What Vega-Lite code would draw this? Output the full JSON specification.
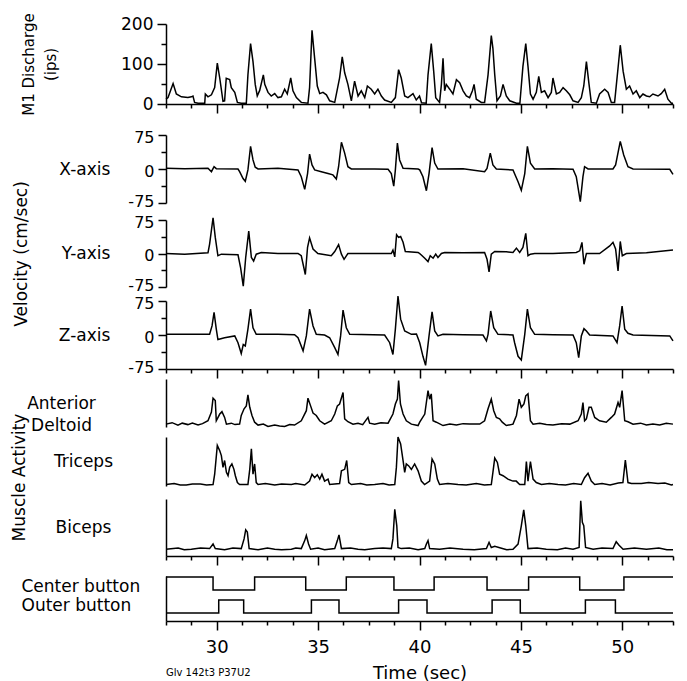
{
  "$schema": "https://vega.github.io/schema/vega-lite/v6.json",
  "padding": {"left": 10, "top": 12, "right": 8, "bottom": 0},
  "config": {
    "view": {"stroke": null},
    "font": "DejaVu Sans",
    "axis": {"grid": false, "domainColor": "#000", "tickColor": "#000", "labelColor": "#000", "titleColor": "#000", "domainWidth": 1.5, "tickWidth": 1.5, "labelFontSize": 17, "titleFontSize": 17, "titleFontWeight": "normal", "labelOverlap": false},
    "title": {"fontWeight": "normal", "color": "#000"},
    "line": {"color": "#000", "strokeWidth": 1.5, "clip": true}
  },
  "datasets": {
    "m1": [{"t":27.5,"v":12},{"t":27.6,"v":16},{"t":27.85,"v":51},{"t":28.01,"v":25},{"t":28.26,"v":18},{"t":28.58,"v":16},{"t":28.75,"v":18},{"t":28.83,"v":20},{"t":28.91,"v":4},{"t":29.08,"v":2},{"t":29.41,"v":2},{"t":29.44,"v":25},{"t":29.57,"v":18},{"t":29.74,"v":23},{"t":29.9,"v":41},{"t":30.03,"v":102},{"t":30.15,"v":65},{"t":30.31,"v":7},{"t":30.39,"v":8},{"t":30.47,"v":64},{"t":30.64,"v":61},{"t":30.72,"v":41},{"t":30.89,"v":29},{"t":31.02,"v":4},{"t":31.21,"v":2},{"t":31.46,"v":2},{"t":31.54,"v":73},{"t":31.67,"v":151},{"t":31.79,"v":106},{"t":31.9,"v":49},{"t":32.0,"v":20},{"t":32.12,"v":34},{"t":32.3,"v":73},{"t":32.37,"v":49},{"t":32.53,"v":29},{"t":32.69,"v":20},{"t":32.86,"v":26},{"t":33.02,"v":16},{"t":33.19,"v":18},{"t":33.35,"v":37},{"t":33.48,"v":25},{"t":33.65,"v":65},{"t":33.76,"v":33},{"t":33.93,"v":16},{"t":34.17,"v":4},{"t":34.5,"v":2},{"t":34.58,"v":41},{"t":34.7,"v":184},{"t":34.83,"v":114},{"t":34.96,"v":45},{"t":35.08,"v":26},{"t":35.24,"v":29},{"t":35.41,"v":23},{"t":35.57,"v":8},{"t":35.82,"v":4},{"t":36.06,"v":65},{"t":36.19,"v":118},{"t":36.31,"v":78},{"t":36.47,"v":49},{"t":36.64,"v":8},{"t":36.8,"v":57},{"t":36.97,"v":20},{"t":37.13,"v":33},{"t":37.3,"v":16},{"t":37.43,"v":45},{"t":37.62,"v":37},{"t":37.79,"v":25},{"t":37.95,"v":37},{"t":38.12,"v":20},{"t":38.28,"v":10},{"t":38.61,"v":4},{"t":38.81,"v":16},{"t":38.97,"v":86},{"t":39.1,"v":65},{"t":39.27,"v":20},{"t":39.43,"v":16},{"t":39.68,"v":26},{"t":39.84,"v":10},{"t":40.0,"v":20},{"t":40.1,"v":3},{"t":40.33,"v":2},{"t":40.42,"v":73},{"t":40.58,"v":151},{"t":40.7,"v":82},{"t":40.8,"v":16},{"t":40.99,"v":4},{"t":41.08,"v":49},{"t":41.16,"v":114},{"t":41.24,"v":33},{"t":41.32,"v":49},{"t":41.49,"v":37},{"t":41.65,"v":25},{"t":41.82,"v":61},{"t":41.98,"v":53},{"t":42.15,"v":33},{"t":42.31,"v":20},{"t":42.47,"v":16},{"t":42.61,"v":33},{"t":42.69,"v":49},{"t":42.8,"v":12},{"t":43.05,"v":4},{"t":43.21,"v":4},{"t":43.38,"v":73},{"t":43.54,"v":171},{"t":43.62,"v":139},{"t":43.71,"v":73},{"t":43.82,"v":8},{"t":43.99,"v":20},{"t":44.12,"v":49},{"t":44.28,"v":20},{"t":44.45,"v":8},{"t":44.78,"v":2},{"t":44.95,"v":2},{"t":45.1,"v":94},{"t":45.24,"v":151},{"t":45.35,"v":94},{"t":45.47,"v":25},{"t":45.6,"v":12},{"t":45.76,"v":29},{"t":45.88,"v":69},{"t":46.01,"v":29},{"t":46.17,"v":33},{"t":46.34,"v":16},{"t":46.5,"v":29},{"t":46.58,"v":65},{"t":46.75,"v":25},{"t":46.91,"v":29},{"t":47.08,"v":41},{"t":47.24,"v":33},{"t":47.41,"v":23},{"t":47.57,"v":8},{"t":47.82,"v":4},{"t":47.98,"v":16},{"t":48.1,"v":45},{"t":48.23,"v":106},{"t":48.36,"v":49},{"t":48.47,"v":4},{"t":48.72,"v":2},{"t":48.88,"v":25},{"t":49.13,"v":37},{"t":49.3,"v":29},{"t":49.46,"v":4},{"t":49.62,"v":4},{"t":49.79,"v":90},{"t":49.9,"v":147},{"t":50.04,"v":82},{"t":50.2,"v":37},{"t":50.36,"v":45},{"t":50.53,"v":25},{"t":50.69,"v":33},{"t":50.86,"v":16},{"t":51.02,"v":25},{"t":51.19,"v":20},{"t":51.35,"v":18},{"t":51.51,"v":25},{"t":51.76,"v":20},{"t":51.92,"v":26},{"t":52.09,"v":37},{"t":52.25,"v":12},{"t":52.42,"v":2},{"t":52.5,"v":2}],
    "vx": [{"t":27.5,"v":1.5},{"t":28.42,"v":0.7},{"t":29.57,"v":1.5},{"t":29.74,"v":-6},{"t":29.87,"v":5},{"t":29.98,"v":0.7},{"t":31.05,"v":0},{"t":31.13,"v":-6},{"t":31.3,"v":-21},{"t":31.41,"v":-27},{"t":31.54,"v":-2},{"t":31.67,"v":50},{"t":31.79,"v":20},{"t":31.9,"v":4},{"t":32.04,"v":0},{"t":33.02,"v":1.5},{"t":34.01,"v":-2},{"t":34.17,"v":-17},{"t":34.34,"v":-45},{"t":34.48,"v":-10},{"t":34.58,"v":33},{"t":34.7,"v":9},{"t":34.83,"v":-2},{"t":35.16,"v":-6},{"t":35.49,"v":-10},{"t":35.73,"v":-13},{"t":35.9,"v":-22},{"t":36.01,"v":5},{"t":36.15,"v":59},{"t":36.31,"v":35},{"t":36.47,"v":5},{"t":36.64,"v":0},{"t":37.79,"v":0},{"t":38.45,"v":-0.7},{"t":38.61,"v":-10},{"t":38.73,"v":-38},{"t":38.81,"v":-2},{"t":38.91,"v":57},{"t":39.02,"v":20},{"t":39.19,"v":1.5},{"t":39.93,"v":0},{"t":40.01,"v":-2},{"t":40.17,"v":-17},{"t":40.34,"v":-48},{"t":40.47,"v":-10},{"t":40.62,"v":47},{"t":40.75,"v":13},{"t":40.91,"v":0},{"t":42.15,"v":0.7},{"t":43.21,"v":-6},{"t":43.33,"v":1.5},{"t":43.49,"v":35},{"t":43.62,"v":9},{"t":43.79,"v":0},{"t":44.61,"v":-2},{"t":44.86,"v":-28},{"t":45.02,"v":-47},{"t":45.19,"v":-10},{"t":45.32,"v":50},{"t":45.47,"v":13},{"t":45.68,"v":0},{"t":46.58,"v":0.7},{"t":47.57,"v":-0.7},{"t":47.73,"v":-17},{"t":47.93,"v":-72},{"t":48.06,"v":-17},{"t":48.14,"v":5},{"t":48.31,"v":0},{"t":49.54,"v":0},{"t":49.67,"v":9},{"t":49.9,"v":61},{"t":50.07,"v":31},{"t":50.28,"v":5},{"t":50.53,"v":0},{"t":52.34,"v":-0.7},{"t":52.5,"v":-12}],
    "vy": [{"t":27.5,"v":0},{"t":28.42,"v":-1.5},{"t":29.57,"v":1.5},{"t":29.65,"v":21},{"t":29.82,"v":80},{"t":29.93,"v":36},{"t":30.06,"v":-5},{"t":30.23,"v":-1.5},{"t":31.05,"v":-3},{"t":31.18,"v":-32},{"t":31.31,"v":-73},{"t":31.43,"v":-9},{"t":31.58,"v":50},{"t":31.71,"v":-9},{"t":31.82,"v":-17},{"t":31.95,"v":-1.5},{"t":32.2,"v":2.3},{"t":33.02,"v":0},{"t":34.01,"v":0},{"t":34.17,"v":-5},{"t":34.37,"v":-47},{"t":34.48,"v":14},{"t":34.58,"v":35},{"t":34.75,"v":10},{"t":34.99,"v":0},{"t":35.65,"v":-5},{"t":35.82,"v":4.5},{"t":36.01,"v":20},{"t":36.15,"v":-1.5},{"t":36.28,"v":-13},{"t":36.47,"v":0},{"t":37.79,"v":0},{"t":38.61,"v":0},{"t":38.69,"v":7.6},{"t":38.78,"v":-7.6},{"t":38.87,"v":42},{"t":38.97,"v":36},{"t":39.07,"v":38},{"t":39.19,"v":25},{"t":39.3,"v":4.5},{"t":39.93,"v":2.3},{"t":40.01,"v":0},{"t":40.26,"v":-10.6},{"t":40.42,"v":-18},{"t":40.53,"v":-5},{"t":40.67,"v":-10.6},{"t":40.8,"v":-1.5},{"t":40.91,"v":-9},{"t":41.08,"v":0},{"t":41.24,"v":2.3},{"t":42.15,"v":1.5},{"t":43.21,"v":2.3},{"t":43.33,"v":-13},{"t":43.43,"v":-41},{"t":43.54,"v":-1.5},{"t":43.71,"v":4.5},{"t":44.28,"v":3.8},{"t":44.61,"v":2.3},{"t":44.78,"v":12},{"t":44.94,"v":2.3},{"t":45.1,"v":13.6},{"t":45.24,"v":45},{"t":45.35,"v":-5},{"t":45.47,"v":-1.5},{"t":45.68,"v":0},{"t":46.58,"v":0},{"t":47.73,"v":2.3},{"t":47.9,"v":6},{"t":48.01,"v":25},{"t":48.11,"v":-24},{"t":48.23,"v":0},{"t":48.88,"v":0},{"t":49.38,"v":17},{"t":49.54,"v":25},{"t":49.67,"v":10},{"t":49.79,"v":-39},{"t":49.9,"v":27},{"t":50.0,"v":-5},{"t":50.2,"v":0},{"t":51.19,"v":1.5},{"t":52.5,"v":7.6}],
    "vz": [{"t":27.5,"v":1.5},{"t":28.58,"v":1.5},{"t":29.65,"v":1.5},{"t":29.77,"v":20},{"t":29.87,"v":50},{"t":29.98,"v":13},{"t":30.06,"v":-10},{"t":30.39,"v":-6},{"t":30.89,"v":-2},{"t":31.05,"v":-17},{"t":31.21,"v":-41},{"t":31.31,"v":-21},{"t":31.41,"v":-24},{"t":31.54,"v":13},{"t":31.67,"v":57},{"t":31.79,"v":16},{"t":31.95,"v":1.5},{"t":33.02,"v":1.5},{"t":33.84,"v":0.7},{"t":34.01,"v":-6},{"t":34.26,"v":-35},{"t":34.42,"v":-2},{"t":34.58,"v":57},{"t":34.75,"v":20},{"t":34.91,"v":1.5},{"t":35.32,"v":0},{"t":35.57,"v":-6},{"t":35.82,"v":-28},{"t":35.98,"v":-43},{"t":36.11,"v":-2},{"t":36.23,"v":55},{"t":36.39,"v":16},{"t":36.56,"v":1.5},{"t":38.28,"v":0},{"t":38.53,"v":-17},{"t":38.69,"v":-43},{"t":38.81,"v":13},{"t":38.94,"v":86},{"t":39.07,"v":35},{"t":39.27,"v":9},{"t":39.6,"v":1.5},{"t":39.85,"v":2},{"t":40.01,"v":-17},{"t":40.17,"v":-47},{"t":40.3,"v":-67},{"t":40.47,"v":-2},{"t":40.62,"v":51},{"t":40.75,"v":9},{"t":40.91,"v":-2},{"t":41.16,"v":1.5},{"t":42.15,"v":0.7},{"t":43.13,"v":0},{"t":43.3,"v":-13},{"t":43.38,"v":1.5},{"t":43.51,"v":53},{"t":43.66,"v":16},{"t":43.87,"v":1.5},{"t":44.61,"v":0},{"t":44.69,"v":-17},{"t":44.86,"v":-47},{"t":45.02,"v":-55},{"t":45.19,"v":1.5},{"t":45.32,"v":57},{"t":45.47,"v":16},{"t":45.68,"v":1.5},{"t":46.58,"v":0.7},{"t":47.57,"v":0},{"t":47.73,"v":-17},{"t":47.85,"v":-50},{"t":47.98,"v":-2},{"t":48.11,"v":14},{"t":48.23,"v":9},{"t":48.39,"v":0},{"t":49.54,"v":-2},{"t":49.74,"v":-17},{"t":49.87,"v":20},{"t":49.99,"v":64},{"t":50.12,"v":13},{"t":50.28,"v":3.7},{"t":50.53,"v":0},{"t":52.34,"v":-2},{"t":52.5,"v":-13}],
    "ad": [{"t":27.5,"v":6},{"t":27.8,"v":9},{"t":28.09,"v":4},{"t":28.3,"v":8},{"t":28.58,"v":5},{"t":28.8,"v":8},{"t":29.08,"v":4},{"t":29.3,"v":7},{"t":29.57,"v":13},{"t":29.74,"v":31},{"t":29.82,"v":60},{"t":29.93,"v":55},{"t":29.98,"v":13},{"t":30.15,"v":27},{"t":30.26,"v":32},{"t":30.39,"v":20},{"t":30.48,"v":6},{"t":30.72,"v":8},{"t":30.9,"v":5},{"t":31.13,"v":6},{"t":31.21,"v":24},{"t":31.35,"v":38},{"t":31.46,"v":44},{"t":31.54,"v":67},{"t":31.63,"v":41},{"t":31.74,"v":24},{"t":31.87,"v":10},{"t":32.04,"v":4},{"t":32.3,"v":6},{"t":32.53,"v":1},{"t":32.86,"v":4},{"t":33.1,"v":2},{"t":33.35,"v":1},{"t":33.6,"v":5},{"t":33.84,"v":4},{"t":34.17,"v":13},{"t":34.42,"v":34},{"t":34.5,"v":60},{"t":34.63,"v":44},{"t":34.75,"v":29},{"t":34.91,"v":24},{"t":35.08,"v":13},{"t":35.32,"v":6},{"t":35.65,"v":13},{"t":35.82,"v":27},{"t":35.95,"v":44},{"t":36.06,"v":48},{"t":36.23,"v":72},{"t":36.31,"v":17},{"t":36.47,"v":11},{"t":36.72,"v":6},{"t":36.97,"v":8},{"t":37.2,"v":5},{"t":37.46,"v":20},{"t":37.54,"v":8},{"t":37.79,"v":6},{"t":38.1,"v":9},{"t":38.45,"v":8},{"t":38.69,"v":27},{"t":38.81,"v":48},{"t":38.91,"v":58},{"t":38.97,"v":97},{"t":39.06,"v":48},{"t":39.19,"v":27},{"t":39.35,"v":13},{"t":39.6,"v":6},{"t":39.93,"v":3},{"t":40.01,"v":10},{"t":40.26,"v":27},{"t":40.42,"v":76},{"t":40.5,"v":58},{"t":40.58,"v":69},{"t":40.67,"v":13},{"t":40.83,"v":10},{"t":41.16,"v":3},{"t":41.5,"v":6},{"t":41.82,"v":4},{"t":42.15,"v":7},{"t":42.47,"v":6},{"t":42.97,"v":6},{"t":43.21,"v":13},{"t":43.38,"v":38},{"t":43.54,"v":58},{"t":43.66,"v":34},{"t":43.79,"v":20},{"t":43.95,"v":17},{"t":44.08,"v":10},{"t":44.28,"v":3},{"t":44.61,"v":6},{"t":44.78,"v":24},{"t":44.91,"v":58},{"t":45.02,"v":41},{"t":45.15,"v":48},{"t":45.24,"v":65},{"t":45.35,"v":69},{"t":45.47,"v":13},{"t":45.6,"v":6},{"t":45.93,"v":8},{"t":46.25,"v":5},{"t":46.58,"v":4},{"t":47.0,"v":7},{"t":47.41,"v":6},{"t":47.82,"v":13},{"t":47.98,"v":27},{"t":48.06,"v":51},{"t":48.14,"v":13},{"t":48.23,"v":17},{"t":48.36,"v":41},{"t":48.47,"v":41},{"t":48.64,"v":20},{"t":48.88,"v":13},{"t":49.21,"v":10},{"t":49.46,"v":20},{"t":49.62,"v":27},{"t":49.79,"v":51},{"t":49.87,"v":41},{"t":49.99,"v":76},{"t":50.12,"v":13},{"t":50.28,"v":11},{"t":50.53,"v":6},{"t":50.9,"v":8},{"t":51.19,"v":4},{"t":51.51,"v":6},{"t":51.84,"v":4},{"t":52.17,"v":8},{"t":52.5,"v":6}],
    "tri": [{"t":27.5,"v":3},{"t":27.9,"v":5},{"t":28.2,"v":2},{"t":28.5,"v":2},{"t":28.8,"v":4},{"t":29.2,"v":4},{"t":29.5,"v":2},{"t":29.82,"v":3},{"t":29.9,"v":24},{"t":30.03,"v":83},{"t":30.15,"v":72},{"t":30.23,"v":62},{"t":30.31,"v":38},{"t":30.39,"v":52},{"t":30.48,"v":28},{"t":30.56,"v":21},{"t":30.64,"v":38},{"t":30.75,"v":45},{"t":30.85,"v":34},{"t":30.92,"v":21},{"t":31.02,"v":7},{"t":31.13,"v":3},{"t":31.54,"v":3},{"t":31.63,"v":34},{"t":31.71,"v":76},{"t":31.79,"v":24},{"t":31.87,"v":45},{"t":31.95,"v":7},{"t":32.04,"v":3},{"t":32.4,"v":5},{"t":32.86,"v":2},{"t":33.2,"v":4},{"t":33.68,"v":3},{"t":33.9,"v":5},{"t":34.34,"v":2},{"t":34.58,"v":10},{"t":34.7,"v":24},{"t":34.83,"v":17},{"t":34.96,"v":23},{"t":35.08,"v":14},{"t":35.19,"v":24},{"t":35.32,"v":10},{"t":35.49,"v":14},{"t":35.57,"v":3},{"t":36.06,"v":5},{"t":36.15,"v":31},{"t":36.31,"v":34},{"t":36.41,"v":52},{"t":36.51,"v":7},{"t":36.64,"v":3},{"t":37.1,"v":5},{"t":37.4,"v":2},{"t":37.79,"v":3},{"t":38.2,"v":5},{"t":38.5,"v":2},{"t":38.78,"v":3},{"t":38.86,"v":38},{"t":38.94,"v":100},{"t":39.07,"v":86},{"t":39.19,"v":52},{"t":39.27,"v":28},{"t":39.35,"v":45},{"t":39.47,"v":41},{"t":39.6,"v":34},{"t":39.76,"v":45},{"t":39.93,"v":31},{"t":40.09,"v":10},{"t":40.25,"v":3},{"t":40.5,"v":10},{"t":40.62,"v":55},{"t":40.75,"v":45},{"t":40.88,"v":14},{"t":40.99,"v":3},{"t":41.4,"v":5},{"t":41.9,"v":3},{"t":42.3,"v":2},{"t":42.8,"v":5},{"t":43.2,"v":2},{"t":43.54,"v":3},{"t":43.62,"v":28},{"t":43.71,"v":57},{"t":43.84,"v":48},{"t":43.95,"v":24},{"t":44.12,"v":21},{"t":44.36,"v":14},{"t":44.61,"v":10},{"t":44.77,"v":10},{"t":44.94,"v":3},{"t":45.19,"v":3},{"t":45.27,"v":50},{"t":45.35,"v":10},{"t":45.47,"v":50},{"t":45.6,"v":14},{"t":45.76,"v":7},{"t":46.01,"v":3},{"t":46.4,"v":5},{"t":46.83,"v":3},{"t":47.2,"v":2},{"t":47.6,"v":5},{"t":47.98,"v":3},{"t":48.14,"v":17},{"t":48.31,"v":26},{"t":48.47,"v":10},{"t":48.64,"v":3},{"t":49.0,"v":5},{"t":49.4,"v":2},{"t":49.8,"v":6},{"t":50.03,"v":7},{"t":50.15,"v":53},{"t":50.28,"v":7},{"t":50.45,"v":5},{"t":50.94,"v":5},{"t":51.3,"v":7},{"t":51.76,"v":5},{"t":52.1,"v":6},{"t":52.42,"v":2},{"t":52.5,"v":3}],
    "bic": [{"t":27.5,"v":12},{"t":28.1,"v":14},{"t":28.4,"v":11},{"t":28.75,"v":12},{"t":29.2,"v":14},{"t":29.65,"v":13},{"t":29.82,"v":21},{"t":29.93,"v":13},{"t":30.39,"v":11},{"t":30.8,"v":14},{"t":31.21,"v":13},{"t":31.35,"v":30},{"t":31.43,"v":46},{"t":31.51,"v":42},{"t":31.6,"v":13},{"t":32.04,"v":11},{"t":32.5,"v":14},{"t":32.86,"v":12},{"t":33.2,"v":11},{"t":33.68,"v":12},{"t":33.9,"v":14},{"t":34.17,"v":13},{"t":34.34,"v":27},{"t":34.42,"v":36},{"t":34.53,"v":21},{"t":34.63,"v":12},{"t":35.0,"v":14},{"t":35.32,"v":11},{"t":35.82,"v":13},{"t":35.95,"v":27},{"t":36.03,"v":37},{"t":36.15,"v":13},{"t":36.6,"v":14},{"t":36.97,"v":12},{"t":37.3,"v":11},{"t":37.79,"v":13},{"t":38.2,"v":14},{"t":38.61,"v":13},{"t":38.69,"v":30},{"t":38.78,"v":82},{"t":38.88,"v":53},{"t":38.94,"v":15},{"t":39.1,"v":13},{"t":39.5,"v":14},{"t":39.93,"v":11},{"t":40.26,"v":13},{"t":40.34,"v":21},{"t":40.42,"v":27},{"t":40.5,"v":13},{"t":40.99,"v":12},{"t":41.5,"v":14},{"t":42.15,"v":12},{"t":42.7,"v":11},{"t":43.3,"v":13},{"t":43.43,"v":24},{"t":43.54,"v":15},{"t":43.71,"v":17},{"t":44.0,"v":14},{"t":44.3,"v":11},{"t":44.61,"v":12},{"t":44.86,"v":21},{"t":45.02,"v":53},{"t":45.14,"v":81},{"t":45.24,"v":53},{"t":45.35,"v":13},{"t":45.8,"v":14},{"t":46.25,"v":12},{"t":46.8,"v":11},{"t":47.2,"v":14},{"t":47.57,"v":12},{"t":47.87,"v":15},{"t":47.95,"v":97},{"t":48.03,"v":59},{"t":48.1,"v":53},{"t":48.19,"v":15},{"t":48.56,"v":12},{"t":49.0,"v":14},{"t":49.54,"v":13},{"t":49.7,"v":25},{"t":49.84,"v":19},{"t":50.04,"v":12},{"t":50.6,"v":14},{"t":51.19,"v":12},{"t":51.8,"v":14},{"t":52.2,"v":11},{"t":52.5,"v":11}],
    "btn": [{"t":27.5,"button":"Center button","state":1},{"t":29.82,"button":"Center button","state":0},{"t":31.87,"button":"Center button","state":1},{"t":34.39,"button":"Center button","state":0},{"t":36.39,"button":"Center button","state":1},{"t":38.74,"button":"Center button","state":0},{"t":40.72,"button":"Center button","state":1},{"t":43.33,"button":"Center button","state":0},{"t":45.38,"button":"Center button","state":1},{"t":47.9,"button":"Center button","state":0},{"t":50.08,"button":"Center button","state":1},{"t":52.5,"button":"Center button","state":1},
            {"t":27.5,"button":"Outer button","state":0},{"t":30.1,"button":"Outer button","state":1},{"t":31.33,"button":"Outer button","state":0},{"t":34.67,"button":"Outer button","state":1},{"t":36.03,"button":"Outer button","state":0},{"t":38.97,"button":"Outer button","state":1},{"t":40.37,"button":"Outer button","state":0},{"t":43.58,"button":"Outer button","state":1},{"t":44.97,"button":"Outer button","state":0},{"t":48.18,"button":"Outer button","state":1},{"t":49.66,"button":"Outer button","state":0},{"t":52.5,"button":"Outer button","state":0}]
  },
  "title": {"text": "Glv 142t3 P37U2", "orient": "bottom", "anchor": "start", "frame": "group", "fontSize": 10, "offset": -14},
  "bounds": "flush",
  "spacing": 0,
  "vconcat": [
    {
      "width": 507, "height": 80,
      "data": {"name": "m1"},
      "mark": {"type": "line"},
      "encoding": {
        "x": {"field": "t", "type": "quantitative", "scale": {"domain": [27.5, 52.5], "nice": false, "zero": false},
              "axis": {"values": [27.5,28.75,30,31.25,32.5,33.75,35,36.25,37.5,38.75,40,41.25,42.5,43.75,45,46.25,47.5,48.75,50,51.25,52.5], "labels": false, "title": null, "tickSize": {"condition": {"test": "datum.value % 5 === 0", "value": 9}, "value": 4}}},
        "y": {"field": "v", "type": "quantitative", "scale": {"domain": [0, 200], "nice": false},
              "axis": {"values": [0,50,100,150,200], "labelExpr": "datum.value % 100 === 0 ? '' + datum.value : ''", "tickSize": {"condition": {"test": "datum.value % 100 === 0", "value": 9}, "value": 5}, "labelPadding": 4, "title": ["M1 Discharge", "(ips)"], "titleFontSize": 15, "titleLineHeight": 22, "titlePadding": 62}}
      }
    },
    {
      "width": 507, "height": 99,
      "data": {"name": "vx"},
      "mark": {"type": "line"},
      "encoding": {
        "x": {"field": "t", "type": "quantitative", "scale": {"domain": [27.5, 52.5], "nice": false, "zero": false}, "axis": null},
        "y": {"field": "v", "type": "quantitative", "scale": {"domain": [-75, 75], "nice": false, "rangeMax": 31},
              "axis": {"values": [-75,-37.5,0,37.5,75], "labelExpr": "datum.value % 75 === 0 ? '' + datum.value : ''", "labelFontSize": 16, "labelOffset": {"condition": {"test": "datum.value === -75", "value": -2}, "value": 2}, "tickSize": {"condition": {"test": "datum.value % 75 === 0", "value": 8}, "value": 5}, "labelPadding": 4, "title": "X-axis", "titleAngle": 0, "titleAlign": "right", "titleBaseline": "middle", "titlePadding": 18}}
      }
    },
    {
      "width": 507, "height": 84,
      "data": {"name": "vy"},
      "resolve": {"scale": {"y": "independent"}, "axis": {"y": "independent"}},
      "layer": [
        {
          "mark": {"type": "line"},
          "encoding": {
            "x": {"field": "t", "type": "quantitative", "scale": {"domain": [27.5, 52.5], "nice": false, "zero": false}, "axis": null},
            "y": {"field": "v", "type": "quantitative", "scale": {"domain": [-75, 75], "nice": false, "rangeMax": 17},
                  "axis": {"values": [-75,-37.5,0,37.5,75], "labelExpr": "datum.value % 75 === 0 ? '' + datum.value : ''", "labelFontSize": 16, "labelOffset": {"condition": {"test": "datum.value === -75", "value": -2}, "value": 2}, "tickSize": {"condition": {"test": "datum.value % 75 === 0", "value": 8}, "value": 5}, "labelPadding": 4, "title": "Y-axis", "titleAngle": 0, "titleAlign": "right", "titleBaseline": "middle", "titlePadding": 18}}
          }
        },
        {
          "mark": {"type": "line", "opacity": 0},
          "encoding": {
            "x": {"field": "t", "type": "quantitative", "scale": {"domain": [27.5, 52.5], "nice": false, "zero": false}, "axis": null},
            "y": {"field": "v", "type": "quantitative", "scale": {"domain": [-75, 75], "nice": false, "rangeMax": 17},
                  "axis": {"orient": "left", "labels": false, "ticks": false, "domain": false, "title": "Velocity (cm/sec)", "titleFontSize": 17, "titlePadding": 136}}
          }
        }
      ]
    },
    {
      "width": 507, "height": 82,
      "data": {"name": "vz"},
      "mark": {"type": "line"},
      "encoding": {
        "x": {"field": "t", "type": "quantitative", "scale": {"domain": [27.5, 52.5], "nice": false, "zero": false},
              "axis": {"values": [27.5,28.75,30,31.25,32.5,33.75,35,36.25,37.5,38.75,40,41.25,42.5,43.75,45,46.25,47.5,48.75,50,51.25,52.5], "labels": false, "title": null, "tickSize": {"condition": {"test": "datum.value % 5 === 0", "value": 9}, "value": 4}}},
        "y": {"field": "v", "type": "quantitative", "scale": {"domain": [-75, 75], "nice": false, "rangeMax": 14},
              "axis": {"values": [-75,-37.5,0,37.5,75], "labelExpr": "datum.value % 75 === 0 ? '' + datum.value : ''", "labelFontSize": 16, "labelOffset": {"condition": {"test": "datum.value === -75", "value": -2}, "value": 2}, "tickSize": {"condition": {"test": "datum.value % 75 === 0", "value": 8}, "value": 5}, "labelPadding": 4, "title": "Z-axis", "titleAngle": 0, "titleAlign": "right", "titleBaseline": "middle", "titlePadding": 18}}
      }
    },
    {
      "width": 507, "height": 58,
      "data": {"name": "ad"},
      "mark": {"type": "line"},
      "encoding": {
        "x": {"field": "t", "type": "quantitative", "scale": {"domain": [27.5, 52.5], "nice": false, "zero": false}, "axis": null},
        "y": {"field": "v", "type": "quantitative", "scale": {"domain": [0, 100], "nice": false, "rangeMax": 10},
              "axis": {"labels": false, "ticks": false, "title": ["Anterior", "Deltoid"], "titleAngle": 0, "titleAlign": "center", "titleBaseline": "middle", "titleLineHeight": 22, "titlePadding": 83}}
      }
    },
    {
      "width": 507, "height": 59,
      "data": {"name": "tri"},
      "resolve": {"scale": {"y": "independent"}, "axis": {"y": "independent"}},
      "layer": [
        {
          "mark": {"type": "line"},
          "encoding": {
            "x": {"field": "t", "type": "quantitative", "scale": {"domain": [27.5, 52.5], "nice": false, "zero": false}, "axis": null},
            "y": {"field": "v", "type": "quantitative", "scale": {"domain": [0, 100], "nice": false, "rangeMax": 10},
                  "axis": {"labels": false, "ticks": false, "title": "Triceps", "titleAngle": 0, "titleAlign": "center", "titleBaseline": "middle", "titlePadding": 83}}
          }
        },
        {
          "mark": {"type": "line", "opacity": 0},
          "encoding": {
            "x": {"field": "t", "type": "quantitative", "scale": {"domain": [27.5, 52.5], "nice": false, "zero": false}, "axis": null},
            "y": {"field": "v", "type": "quantitative", "scale": {"domain": [0, 100], "nice": false, "rangeMin": 61, "rangeMax": 39},
                  "axis": {"orient": "left", "labels": false, "ticks": false, "domain": false, "title": "Muscle Activity", "titleFontSize": 17, "titlePadding": 138}}
          }
        }
      ]
    },
    {
      "width": 507, "height": 90,
      "data": {"name": "bic"},
      "mark": {"type": "line"},
      "encoding": {
        "x": {"field": "t", "type": "quantitative", "scale": {"domain": [27.5, 52.5], "nice": false, "zero": false},
              "axis": {"offset": -20, "values": [27.5,28.75,30,31.25,32.5,33.75,35,36.25,37.5,38.75,40,41.25,42.5,43.75,45,46.25,47.5,48.75,50,51.25,52.5], "labels": false, "title": null, "tickSize": {"condition": {"test": "datum.value % 5 === 0", "value": 9}, "value": 4}}},
        "y": {"field": "v", "type": "quantitative", "scale": {"domain": [0, 100], "nice": false, "rangeMin": 70, "rangeMax": 13},
              "axis": {"labels": false, "ticks": false, "title": "Biceps", "titleAngle": 0, "titleAlign": "center", "titleBaseline": "middle", "titlePadding": 83}}
      }
    },
    {
      "width": 507, "height": 45,
      "data": {"name": "btn"},
      "resolve": {"scale": {"y": "independent"}, "axis": {"y": "independent"}},
      "encoding": {
        "x": {"field": "t", "type": "quantitative", "scale": {"domain": [27.5, 52.5], "nice": false, "zero": false},
              "axis": {"values": [27.5,28.75,30,31.25,32.5,33.75,35,36.25,37.5,38.75,40,41.25,42.5,43.75,45,46.25,47.5,48.75,50,51.25,52.5], "labelExpr": "datum.value % 5 === 0 ? '' + datum.value : ''", "labelFlush": false, "labelFontSize": 18, "labelPadding": 8, "title": "Time (sec)", "titleFontSize": 18, "titlePadding": 8, "tickSize": {"condition": {"test": "datum.value % 5 === 0", "value": 9}, "value": 4}}}
      },
      "layer": [
        {
          "mark": {"type": "line", "opacity": 0},
          "encoding": {
            "y": {"field": "button", "type": "nominal", "sort": ["Center button", "Outer button"], "scale": {"paddingInner": 0, "paddingOuter": 0},
                  "axis": {"title": null, "ticks": false, "labelAlign": "left", "labelBaseline": "middle", "labelPadding": 145, "labelFontSize": 17, "labelOffset": {"condition": {"test": "datum.value === 'Outer button'", "value": -4}, "value": -1}}},
            "detail": {"field": "button"}
          }
        },
        {
          "transform": [{"filter": "datum.button === 'Center button'"}],
          "mark": {"type": "line", "interpolate": "step-after", "strokeWidth": 1.5},
          "encoding": {
            "y": {"field": "state", "type": "quantitative", "scale": {"domain": [0, 1], "rangeMin": 14, "rangeMax": 1}, "axis": null}
          }
        },
        {
          "transform": [{"filter": "datum.button === 'Outer button'"}],
          "mark": {"type": "line", "interpolate": "step-after", "strokeWidth": 1.5},
          "encoding": {
            "y": {"field": "state", "type": "quantitative", "scale": {"domain": [0, 1], "rangeMin": 37, "rangeMax": 24}, "axis": null}
          }
        }
      ]
    }
  ]
}
